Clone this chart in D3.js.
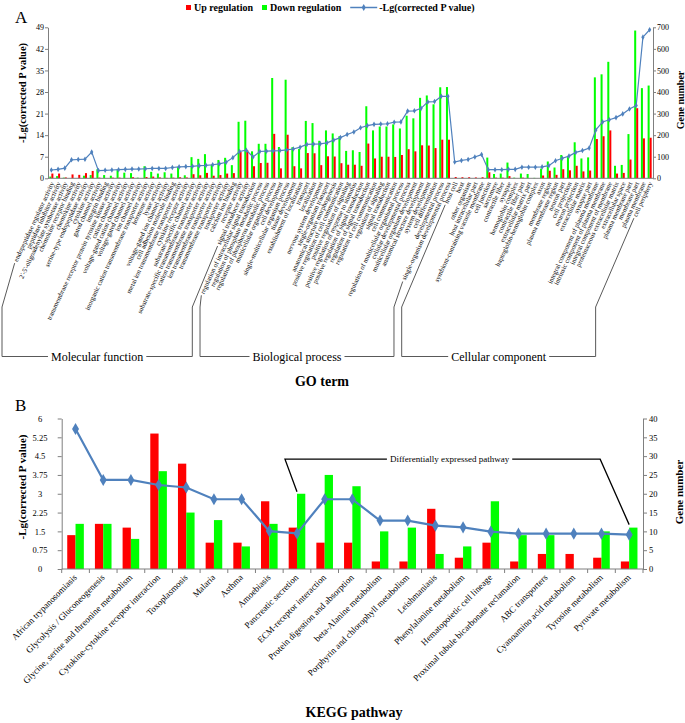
<!DOCTYPE html>
<html>
<head>
<meta charset="utf-8">
<script src="https://cdn.jsdelivr.net/npm/d3@7"></script>
<style>
  body { margin: 0; background: #fff; }
  svg, svg text { font-family: "Liberation Serif", "Times New Roman", "DejaVu Serif", serif; }
</style>
</head>
<body>
<div id="chart"></div>
<script>
// ---------- Panel A data (GO terms) ----------
var goTerms = [
  "endopeptidase regulator activity", "peptidase inhibitor activity",
  "2'-5'-oligoadenylate synthetase activity", "chemokine receptor binding",
  "chemokine activity", "serine-type endopeptidase activity", "cytokine activity",
  "gated channel activity", "integrin binding",
  "transmembrane receptor protein tyrosine kinase activity", "cation channel activity",
  "voltage-gated cation channel activity", "voltage-gated channel activity",
  "ion channel activity", "inorganic cation transmembrane transporter activity",
  "hormone activity", "lyase activity", "voltage-gated ion channel activity",
  "cell adhesion molecule binding", "metal ion transmembrane transporter activity",
  "cytokine receptor activity", "substrate-specific channel activity",
  "substrate-specific transmembrane transporter activity",
  "cation transmembrane transporter activity", "ion transmembrane transporter activity",
  "transmembrane transporter activity", "transporter activity", "calcium ion binding",
  "receptor activity", "signal transducer activity",

  "regulation of intracellular signal transduction", "regulation of phosphate metabolic process",
  "regulation of phosphorus metabolic process", "multicellular organismal process",
  "cell development", "single-multicellular organism process", "tissue development",
  "establishment of localization", "transport", "localization",
  "nervous system development", "single-organism transport",
  "anatomical structure morphogenesis", "positive regulation of cell communication",
  "positive regulation of signaling", "positive regulation of response to stimulus",
  "positive regulation of signal transduction", "regulation of signal transduction",
  "regulation of cell communication", "regulation of signaling", "signal transduction",
  "cell communication", "regulation of multicellular organismal process",
  "cellular developmental process", "multicellular organism development",
  "anatomical structure development", "system development", "cell differentiation",
  "developmental process", "single-organism developmental process",

  "host cell", "host", "other organism", "host intracellular part",
  "symbiont-containing vacuole membrane", "cell junction", "sarcomere",
  "contractile fiber", "synapse", "hemoglobin complex", "contractile fiber part",
  "extracellular matrix part", "haptoglobin-hemoglobin complex", "axon",
  "membrane region", "plasma membrane region", "neuron part", "cell projection",
  "neuron projection", "extracellular matrix", "synapse part",
  "integral component of plasma membrane", "intrinsic component of plasma membrane",
  "integral component of membrane", "proteinaceous extracellular matrix",
  "extracellular space", "plasma membrane part", "membrane part", "plasma membrane",
  "cell periphery"
];
var goUp = [
  22, 22, 4, 18, 16, 24, 34, 3, 0, 3, 3, 0, 5, 0, 6, 8, 4, 2, 3, 5,
  4, 19, 14, 25, 12, 15, 22, 24, 122, 130,
  56, 71, 72, 206, 46, 202, 56, 46, 117, 116, 61, 102, 101, 70, 63, 63,
  58, 161, 92, 100, 100, 99, 108, 135, 125, 153, 152, 140, 179, 179,
  6, 5, 5, 4, 5, 28, 3, 3, 10, 0, 3, 0, 0, 13, 35, 16, 42, 37, 58, 32,
  36, 182, 195, 222, 22, 25, 87, 325, 185, 188
];
var goDown = [
  8, 10, 3, 0, 0, 12, 15, 42, 15, 12, 40, 26, 24, 3, 56, 30, 22, 28, 22, 52,
  14, 98, 90, 112, 63, 85, 95, 61, 262, 267,
  125, 160, 160, 465, 145, 457, 144, 136, 266, 256, 174, 222, 208, 195, 127, 130,
  122, 334, 222, 240, 240, 250, 231, 290, 278, 373, 384, 343, 422, 423,
  0, 0, 0, 0, 0, 96, 20, 22, 73, 3, 22, 20, 2, 45, 78, 50, 108, 98, 167, 92,
  97, 468, 482, 540, 58, 62, 205, 685, 418, 430
];
var goLgP = [
  2.7, 2.9, 3.3, 6.0, 6.1, 6.2, 8.5, 2.5, 2.6, 2.7, 2.8, 2.9, 3.0, 3.0, 3.1,
  3.2, 3.2, 3.2, 3.5, 3.7, 3.8, 3.9, 4.1, 4.2, 4.4, 4.7, 5.2, 6.7, 8.7, 9.1,
  6.9, 8.7, 8.8, 8.9, 9.0, 9.2, 9.5, 10.1, 11.0, 11.1, 11.2, 11.5, 12.4, 13.2,
  14.2, 15.0, 16.4, 17.1, 17.5, 17.6, 17.7, 18.2, 18.3, 21.8, 21.9, 22.7, 24.8,
  24.9, 26.6, 26.6,
  5.3, 5.8, 6.1, 6.9, 7.7, 2.8, 2.8, 2.8, 2.9, 2.9, 3.6, 3.6, 3.6, 3.7, 4.1,
  5.7, 6.5, 7.2, 8.4, 9.0, 9.8, 15.7, 18.3, 19.0, 19.7, 20.9, 22.5, 23.6, 45.8, 48.2
];
var goGroups = ["Molecular function", "Biological process", "Cellular component"];
var goGroupSizes = [30, 30, 30];
var goLeftTicks = [0, 7, 14, 21, 28, 35, 42, 49];
var goRightTicks = [0, 100, 200, 300, 400, 500, 600, 700];

// ---------- Panel B data (KEGG pathways) ----------
var keggPathways = [
  "African trypanosomiasis", "Glycolysis / Gluconeogenesis",
  "Glycine, serine and threonine metabolism", "Cytokine-cytokine receptor interaction",
  "Toxoplasmosis", "Malaria", "Asthma", "Amoebiasis", "Pancreatic secretion",
  "ECM-receptor interaction", "Protein digestion and absorption",
  "beta-Alanine metabolism", "Porphyrin and chlorophyll metabolism", "Leishmaniasis",
  "Phenylalanine metabolism", "Hematopoietic cell lineage",
  "Proximal tubule bicarbonate reclamation", "ABC transporters",
  "Cyanoamino acid metabolism", "Tyrosine metabolism", "Pyruvate metabolism"
];
var keggUp = [9, 12, 11, 36, 28, 7, 7, 18, 11, 7, 7, 2, 2, 16, 3, 7, 2, 4, 4, 3, 2];
var keggDown = [12, 12, 8, 26, 15, 13, 6, 12, 20, 25, 22, 10, 11, 4, 6, 18, 9, 9, 0, 10, 11];
var keggLgP = [5.58, 3.55, 3.55, 3.35, 3.25, 2.78, 2.78, 1.51, 1.42, 2.78, 2.78,
  1.93, 1.93, 1.73, 1.66, 1.49, 1.41, 1.41, 1.41, 1.41, 1.37];
var keggLeftTicks = [0, 0.75, 1.5, 2.25, 3, 3.75, 4.5, 5.25, 6];
var keggRightTicks = [0, 5, 10, 15, 20, 25, 30, 35, 40];
var keggNote = { from: "Pancreatic secretion", to: "Pyruvate metabolism",
  text: "Differentially expressed pathway", level: 4.38 };

var upColor = "#ff0000", downColor = "#00ff00", lineColor = "#4f81bd", axisColor = "#7f7f7f";
var serif = "Liberation Serif, Times New Roman, DejaVu Serif, serif";

var svg = d3.select("#chart").append("svg")
  .attr("width", 685)
  .attr("height", 723)
  .attr("font-family", serif);

function styleAxis(g, size) {
  g.attr("font-family", serif);
  g.select(".domain").attr("stroke", axisColor);
  g.selectAll(".tick line").attr("stroke", axisColor);
  g.selectAll(".tick text").attr("font-size", size).attr("fill", "#000");
}

function rotLabel(x, y, txt, size) {
  svg.append("text")
    .attr("transform", `translate(${x},${y}) rotate(-90)`)
    .attr("text-anchor", "middle")
    .attr("dy", "0.35em")
    .attr("font-weight", "bold")
    .attr("font-size", size)
    .text(txt);
}

// =================== Panel A ===================
var a = { left: 48, right: 653, top: 27.3, bottom: 178.3 };

var xA = d3.scaleBand()
  .domain(d3.range(goTerms.length))
  .range([a.left, a.right])
  .paddingInner(0.4)
  .paddingOuter(0.2);
var cA = i => xA(i) + xA.bandwidth() / 2;
var yLA = d3.scaleLinear().domain([0, 49]).range([a.bottom, a.top]);
var yRA = d3.scaleLinear().domain([0, 700]).range([a.bottom, a.top]);

var gA = svg.append("g");

// bars: down (green) left, up (red) right
gA.selectAll(".downA").data(goDown).enter().append("rect")
  .attr("x", (d, i) => xA(i))
  .attr("width", xA.bandwidth() / 2)
  .attr("y", d => yRA(d))
  .attr("height", d => a.bottom - yRA(d))
  .attr("fill", downColor);
gA.selectAll(".upA").data(goUp).enter().append("rect")
  .attr("x", (d, i) => xA(i) + xA.bandwidth() / 2)
  .attr("width", xA.bandwidth() / 2)
  .attr("y", d => yRA(d))
  .attr("height", d => a.bottom - yRA(d))
  .attr("fill", upColor);

// axes
gA.append("g").attr("transform", `translate(${a.left},0)`)
  .call(d3.axisLeft(yLA).tickValues(goLeftTicks).tickSize(3).tickSizeOuter(0).tickPadding(1))
  .call(g => styleAxis(g, 8));
gA.append("g").attr("transform", `translate(${a.right},0)`)
  .call(d3.axisRight(yRA).tickValues(goRightTicks).tickSize(3).tickSizeOuter(0).tickPadding(1))
  .call(g => styleAxis(g, 8));
gA.append("line")
  .attr("x1", a.left).attr("x2", a.right)
  .attr("y1", a.bottom).attr("y2", a.bottom)
  .attr("stroke", axisColor);

// line
var lineA = d3.line().x((d, i) => cA(i)).y(d => yLA(d));
gA.append("path").datum(goLgP)
  .attr("d", lineA)
  .attr("fill", "none")
  .attr("stroke", lineColor)
  .attr("stroke-width", 1.2);
gA.selectAll(".ptA").data(goLgP).enter().append("path")
  .attr("transform", (d, i) => `translate(${cA(i)},${yLA(d)})`)
  .attr("d", d3.symbol().type(d3.symbolDiamond).size(9))
  .attr("fill", lineColor);

// category labels
var angA = 65, radA = angA * Math.PI / 180, labYA = a.bottom + 4;
var goLabels = gA.selectAll(".golab").data(goTerms).enter().append("text")
  .attr("transform", (d, i) => `translate(${cA(i) + 1},${labYA}) rotate(${-angA})`)
  .attr("text-anchor", "end")
  .attr("dy", "0.32em")
  .attr("font-size", 6.8)
  .text(d => d);
var labNodes = goLabels.nodes();
function labelStart(i) {
  var L = labNodes[i].getComputedTextLength() + 2;
  return [cA(i) + 1 - L * Math.cos(radA), labYA + L * Math.sin(radA)];
}

// group brackets
var brTop = 307, brBot = 356.5, first = 0;
goGroups.forEach(function(name, gi) {
  var f = first, l = first + goGroupSizes[gi] - 1;
  first = l + 1;
  var xL = Math.max(2, cA(f) - 53), xR = cA(l) - 54;
  var t = gA.append("text")
    .attr("x", (xL + xR) / 2).attr("y", brBot + 4)
    .attr("text-anchor", "middle")
    .attr("font-size", 12)
    .text(name);
  var tw = t.node().getComputedTextLength();
  var sF = labelStart(f), sL = labelStart(l);
  var cx = (xL + xR) / 2;
  var p = d3.path();
  p.moveTo(sF[0], sF[1]); p.lineTo(xL, brTop); p.lineTo(xL, brBot); p.lineTo(cx - tw / 2 - 3, brBot);
  p.moveTo(cx + tw / 2 + 3, brBot); p.lineTo(xR, brBot); p.lineTo(xR, brTop); p.lineTo(sL[0], sL[1]);
  gA.append("path").attr("d", p.toString())
    .attr("fill", "none").attr("stroke", "#595959").attr("stroke-width", 1);
});

svg.append("text").attr("x", 322).attr("y", 386)
  .attr("text-anchor", "middle").attr("font-weight", "bold").attr("font-size", 14)
  .text("GO term");
rotLabel(22, 93, "-Lg(corrected P value)", 10.5);
rotLabel(680, 100, "Gene number", 10);
svg.append("text").attr("x", 15).attr("y", 23).attr("font-size", 17).text("A");

// legend
var leg = svg.append("g").attr("font-weight", "bold").attr("font-size", 10);
var lx = 186, ly = 7.5;
[["Up regulation", upColor], ["Down regulation", downColor]].forEach(function(it) {
  leg.append("rect").attr("x", lx).attr("y", ly - 2.5).attr("width", 5).attr("height", 5).attr("fill", it[1]);
  var t = leg.append("text").attr("x", lx + 8).attr("y", ly).attr("dy", "0.35em").text(it[0]);
  lx += 8 + t.node().getComputedTextLength() + 9;
});
leg.append("line").attr("x1", lx).attr("x2", lx + 27).attr("y1", ly).attr("y2", ly)
  .attr("stroke", lineColor).attr("stroke-width", 1.5);
leg.append("path").attr("transform", `translate(${lx + 13.5},${ly})`)
  .attr("d", d3.symbol().type(d3.symbolDiamond).size(14)).attr("fill", lineColor);
leg.append("text").attr("x", lx + 29).attr("y", ly).attr("dy", "0.35em").text("-Lg(corrected P value)");

// =================== Panel B ===================
var b = { left: 61.7, right: 643, top: 418.5, bottom: 569 };
var xB = d3.scaleBand()
  .domain(keggPathways)
  .range([b.left, b.right])
  .paddingInner(0.4)
  .paddingOuter(0.2);
var cB = d => xB(d) + xB.bandwidth() / 2;
var yLB = d3.scaleLinear().domain([0, 6]).range([b.bottom, b.top]);
var yRB = d3.scaleLinear().domain([0, 40]).range([b.bottom, b.top]);

var gB = svg.append("g");

gB.selectAll(".upB").data(keggUp).enter().append("rect")
  .attr("x", (d, i) => xB(keggPathways[i]))
  .attr("width", xB.bandwidth() / 2)
  .attr("y", d => yRB(d))
  .attr("height", d => b.bottom - yRB(d))
  .attr("fill", upColor);
gB.selectAll(".downB").data(keggDown).enter().append("rect")
  .attr("x", (d, i) => xB(keggPathways[i]) + xB.bandwidth() / 2)
  .attr("width", xB.bandwidth() / 2)
  .attr("y", d => yRB(d))
  .attr("height", d => b.bottom - yRB(d))
  .attr("fill", downColor);

gB.append("g").attr("transform", `translate(${b.left},0)`)
  .call(d3.axisLeft(yLB).tickValues(keggLeftTicks).tickFormat(d => String(d)).tickSize(4).tickSizeOuter(0))
  .call(g => styleAxis(g, 8.5))
  .call(g => g.selectAll(".tick text").attr("x", -(b.left - 40)).attr("text-anchor", "middle"));
gB.append("g").attr("transform", `translate(${b.right},0)`)
  .call(d3.axisRight(yRB).tickValues(keggRightTicks).tickSize(4).tickSizeOuter(0).tickPadding(2))
  .call(g => styleAxis(g, 8.5));

// x axis with ticks between categories
gB.append("line")
  .attr("x1", b.left).attr("x2", b.right)
  .attr("y1", b.bottom).attr("y2", b.bottom)
  .attr("stroke", axisColor);
gB.selectAll(".xtickB").data(d3.range(keggPathways.length + 1)).enter().append("line")
  .attr("x1", k => b.left + k * xB.step()).attr("x2", k => b.left + k * xB.step())
  .attr("y1", b.bottom).attr("y2", b.bottom + 4)
  .attr("stroke", axisColor);

var lineB = d3.line().x((d, i) => cB(keggPathways[i])).y(d => yLB(d));
gB.append("path").datum(keggLgP)
  .attr("d", lineB)
  .attr("fill", "none")
  .attr("stroke", lineColor)
  .attr("stroke-width", 2.2);
gB.selectAll(".ptB").data(keggLgP).enter().append("path")
  .attr("transform", (d, i) => `translate(${cB(keggPathways[i])},${yLB(d)})`)
  .attr("d", d3.symbol().type(d3.symbolDiamond).size(42))
  .attr("fill", lineColor);

gB.selectAll(".keggLab").data(keggPathways).enter().append("text")
  .attr("transform", d => `translate(${cB(d) + 2},${b.bottom + 9}) rotate(-45)`)
  .attr("text-anchor", "end")
  .attr("font-size", 9)
  .text(d => d);

// "Differentially expressed pathway" callout
var iF = keggPathways.indexOf(keggNote.from), iT = keggPathways.indexOf(keggNote.to);
var nY = yLB(keggNote.level);
var c1 = cB(keggNote.from) - 12, c2 = cB(keggNote.to) - 29;
var ncx = (c1 + c2) / 2 + 7;
var nt = gB.append("text").attr("x", ncx).attr("y", nY)
  .attr("dy", "0.35em").attr("text-anchor", "middle").attr("font-size", 9)
  .text(keggNote.text);
var ntw = nt.node().getComputedTextLength();
var np = d3.path();
np.moveTo(cB(keggNote.from), yRB(keggDown[iF]) - 2); np.lineTo(c1, nY); np.lineTo(ncx - ntw / 2 - 3, nY);
np.moveTo(ncx + ntw / 2 + 3, nY); np.lineTo(c2, nY); np.lineTo(cB(keggNote.to), yRB(keggDown[iT]) - 3);
gB.append("path").attr("d", np.toString())
  .attr("fill", "none").attr("stroke", "#000").attr("stroke-width", 1.3);

svg.append("text").attr("x", 354).attr("y", 717)
  .attr("text-anchor", "middle").attr("font-weight", "bold").attr("font-size", 14)
  .text("KEGG pathway");
rotLabel(22, 487, "-Lg(corrected P value)", 11);
rotLabel(679, 492, "Gene number", 11);
svg.append("text").attr("x", 15).attr("y", 411).attr("font-size", 17).text("B");
</script>
</body>
</html>
